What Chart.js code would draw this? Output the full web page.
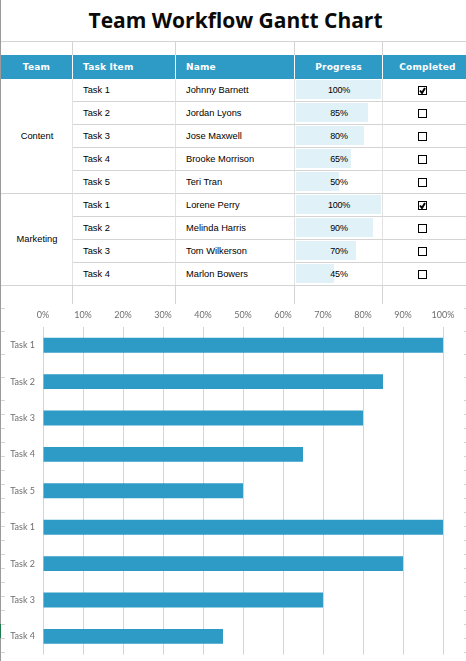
<!DOCTYPE html>
<html><head><meta charset="utf-8">
<script src="https://cdn.jsdelivr.net/npm/chart.js@4"></script>
<style>
html,body{margin:0;padding:0;background:#fff;width:466px;height:661px;overflow:hidden}
#page{position:relative;width:466px;height:661px;overflow:hidden}
#title{position:absolute;left:0;top:4px;width:471px;text-align:center;font:700 21px/32px "Open Sans",sans-serif;color:#0a0a0a}
table{position:absolute;left:1px;top:55px;border-collapse:separate;border-spacing:0;table-layout:fixed;width:465px;font:9.3px "Liberation Sans",Arial,sans-serif;color:#000}
th{height:24px;padding:0;background:#2e9bc6;color:#fff;font:700 9px "DejaVu Sans",sans-serif;letter-spacing:.2px;border-right:1px solid #fff;box-sizing:border-box}
th.l{text-align:left;padding-left:10px}
th.last{padding-left:6px}
td{height:23px;padding:0 0 1px 0;box-sizing:border-box;border-bottom:1px solid #d4d4d4;border-right:1px solid #e2e2e2;position:relative}
td.t{padding-left:10px}
td.team{text-align:center;padding-left:1px}
td.last,th.last{border-right:0}
.bar{position:absolute;left:1px;top:1px;bottom:2px;background:#e1f1f8}
.pct{position:relative;display:block;text-align:center;padding-left:1px;font-size:9px;letter-spacing:-.2px}
.cb{display:block;width:7px;height:7px;border:1px solid #000;margin:2px 0 0 35px;position:relative}
.cb svg{position:absolute;left:0;top:0}
#chartBox{position:absolute;left:0;top:300px;width:466px;height:368px}
.v{position:absolute;width:1px;background:#d4d4d4}
.h{position:absolute;height:1px;background:#d4d4d4}
</style></head><body>
<div id="page">
<div id="title">Team Workflow Gantt Chart</div>
<div id="chartBox"><canvas id="c" width="466" height="368"></canvas></div>
<table id="tbl"></table>
</div>
<script>
const headers = ["Team","Task Item","Name","Progress","Completed"];
const columnWidths = [72,103,119,88,83];
const teams = [["Content",5],["Marketing",4]];
const taskItems = ["Task 1","Task 2","Task 3","Task 4","Task 5","Task 1","Task 2","Task 3","Task 4"];
const names = ["Johnny Barnett","Jordan Lyons","Jose Maxwell","Brooke Morrison","Teri Tran","Lorene Perry","Melinda Harris","Tom Wilkerson","Marlon Bowers"];
const progress = [100,85,80,65,50,100,90,70,45];
const completed = [true,false,false,false,false,true,false,false,false];
const tickValues = [0,10,20,30,40,50,60,70,80,90,100];

const tbl = document.getElementById('tbl');
let html = '<colgroup>' + columnWidths.map(w=>`<col style="width:${w}px">`).join('') + '</colgroup><tr>';
headers.forEach((h,i)=>{ html += `<th class="${i==1||i==2?'l':''} ${i==4?'last':''}">${h}</th>`; });
html += '</tr>';
let rowIdx = 0;
teams.forEach(([team,span])=>{
  for(let k=0;k<span;k++,rowIdx++){
    html += '<tr>';
    if(k===0) html += `<td class="team" rowspan="${span}">${team}</td>`;
    html += `<td class="t">${taskItems[rowIdx]}</td><td class="t">${names[rowIdx]}</td>`;
    html += `<td><div class="bar" style="width:${progress[rowIdx]*0.85}px"></div><span class="pct">${progress[rowIdx]}%</span></td>`;
    const tick = completed[rowIdx] ? '<svg width="7" height="7"><path d="M1 3.5L3 6L6 1" stroke="#000" stroke-width="2" fill="none"/></svg>' : '';
    html += `<td class="last"><span class="cb">${tick}</span></td></tr>`;
  }
});
tbl.innerHTML = html;

const page = document.getElementById('page');
function deco(cls,l,t,w,h,col){const d=document.createElement('div');d.className=cls;d.style.cssText=`left:${l}px;top:${t}px;width:${w}px;height:${h}px`+(col?`;background:${col}`:'');page.appendChild(d);}
deco('h',0,41,466,1);
deco('h',0,285,466,1);
[72,175,294,382].forEach(x=>{deco('v',x,42,1,13);deco('v',x,286,1,18);});
deco('v',0,0,1,661,'#9a9a9a');
for(const y of [308,331,354,377]){deco('h',1,y,4,1,'#d4d4d4');deco('h',464,y,2,1,'#d4d4d4');}
for(let y=400;y<661;y+=14){deco('h',1,y,4,1,'#d4d4d4');deco('h',464,y,2,1,'#d4d4d4');}
deco('v',0,624,1,14,'#1d7a4d');

new Chart(document.getElementById('c'),{
  type:'bar',
  data:{labels:taskItems,datasets:[{data:progress,backgroundColor:'#2e9bc6',borderWidth:0,categoryPercentage:1,barPercentage:0.41}]},
  options:{
    indexAxis:'y',responsive:false,animation:false,
    layout:{padding:{top:0,right:23,bottom:2,left:0}},
    plugins:{legend:{display:false},tooltip:{enabled:false}},
    scales:{
      x:{position:'top',min:0,max:100,
         afterFit(s){s.height=27;},
         afterBuildTicks(s){s.ticks=tickValues.map(v=>({value:v}));},
         border:{display:false},
         grid:{color:'#d4d4d4',lineWidth:1,drawTicks:false},
         ticks:{padding:7,maxRotation:0,autoSkip:false,color:'#6e6e6e',font:{family:'Lato',size:9},callback:v=>v+'%'}},
      y:{afterFit(s){s.width=43;},
         border:{display:false},
         grid:{display:false,drawTicks:false},
         ticks:{padding:8,autoSkip:false,color:'#6e6e6e',font:{family:'Lato',size:9}}}
    }
  }
});
</script>
</body></html>
